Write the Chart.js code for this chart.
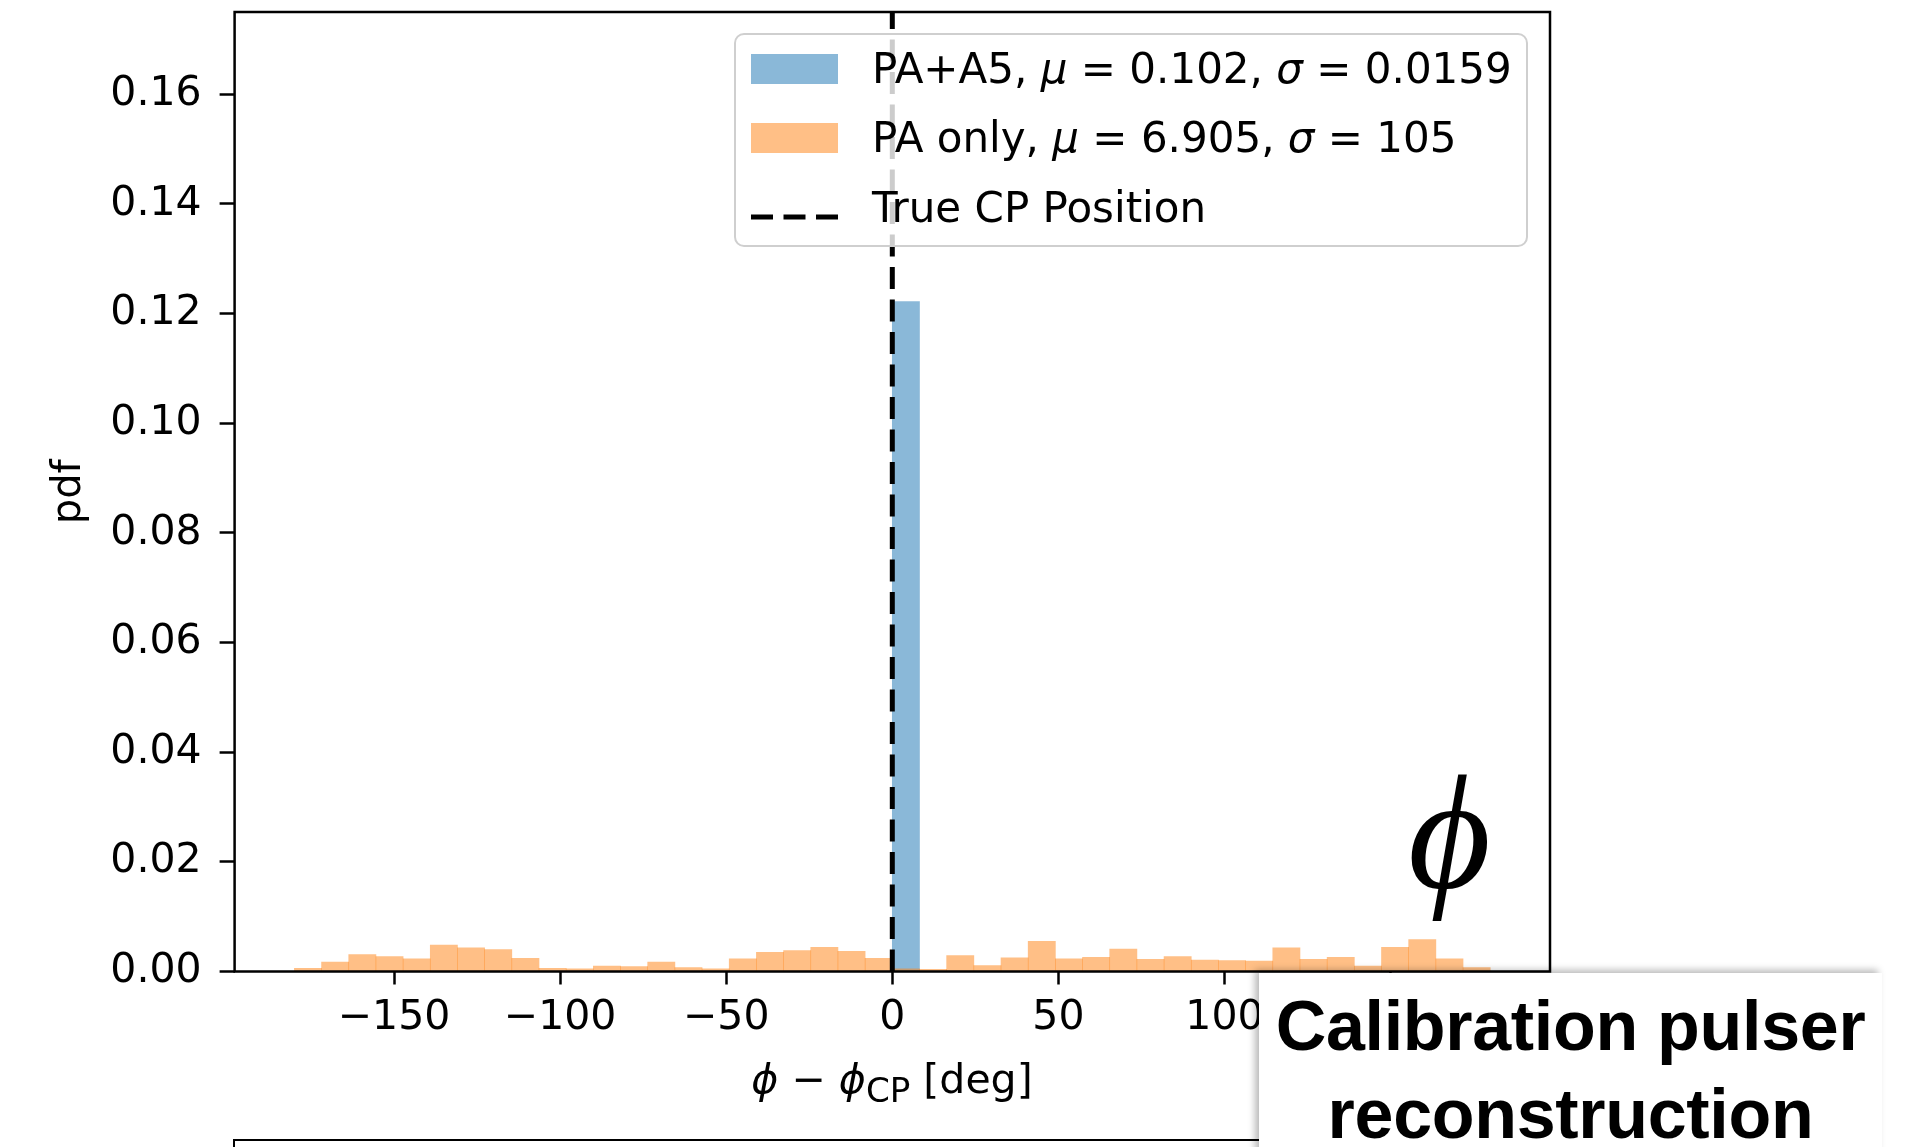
<!DOCTYPE html>
<html>
<head>
<meta charset="utf-8">
<title>Calibration pulser reconstruction</title>
<script src="https://cdn.jsdelivr.net/npm/chart.js@4.4.1/dist/chart.umd.min.js"></script>
<style>
    html, body { margin:0; padding:0; background:#fff; }
    body { width:1916px; height:1147px; position:relative; overflow:hidden; font-family:"DejaVu Sans", sans-serif; color:#000; }
    #chartCanvas { position:absolute; left:0; top:0; }
</style>
</head>
<body>
<canvas id="chartCanvas" width="1916" height="1147"></canvas>
<div id="legendBox"></div>
<div id="xLabel"><i>ϕ</i> − <i>ϕ</i><sub>CP</sub> [deg]</div>
<div id="bigPhi">ϕ</div>
<div id="lowerPanel"></div>
<div id="overlayBox">Calibration pulser<br>reconstruction</div>
<script>
document.addEventListener('DOMContentLoaded', drawPage);

// 44 equal bins over [-180, 180] deg
const binRange = [-180, 180];
const binCount = 44;

// PA+A5 : everything lands in the bin right above 0
const paA5Values = [
    0, 0, 0, 0, 0, 0, 0, 0, 0, 0, 0,
    0, 0, 0, 0, 0, 0, 0, 0, 0, 0, 0,
    0.1222, 0, 0, 0, 0, 0, 0, 0, 0, 0, 0,
    0, 0, 0, 0, 0, 0, 0, 0, 0, 0, 0
];
// PA only
const paOnlyValues = [
    0.0006, 0.0017, 0.0031, 0.0027, 0.0023, 0.0048, 0.0043, 0.0040, 0.0024, 0.0006, 0.0005,
    0.0010, 0.0009, 0.0017, 0.0007, 0.0005, 0.0023, 0.0035, 0.0038, 0.0044, 0.0037, 0.0024,
    0.0005, 0.0004, 0.0029, 0.0011, 0.0025, 0.0055, 0.0023, 0.0026, 0.0041, 0.0022, 0.0027,
    0.0021, 0.0020, 0.0019, 0.0043, 0.0022, 0.0026, 0.0010, 0.0044, 0.0058, 0.0023, 0.0007
];
const trueCpPosition = 0;

const xLimits = [-198, 198];
const yLimits = [0, 0.175];
const xTickStep = 50;
const yTickStep = 0.02;

const legendLabels = [
    'PA+A5, <i>μ</i> = 0.102, <i>σ</i> = 0.0159',
    'PA only, <i>μ</i> = 6.905, <i>σ</i> = 105',
    'True CP Position'
];

const blueFill = 'rgba(31,119,180,0.52)';
const orangeFill = 'rgba(255,127,14,0.5)';

function drawPage(){
    styleOverlays();
    createLegend();
    createChart();
}

function binCenters(){
    let width = (binRange[1] - binRange[0]) / binCount;
    let centers = [];
    for(let i = 0; i < binCount; i++){
        centers.push(binRange[0] + (i + 0.5) * width);
    }
    return centers;
}

function toPoints(values){
    let centers = binCenters();
    return values.map((v, i) => ({x: centers[i], y: v}));
}

function styleOverlays(){
    document.getElementById('legendBox').setAttribute("style",
        "position:absolute; left:734px; top:33px; width:794px; height:214px; box-sizing:border-box;" +
        " border:2.5px solid #cfcfcf; border-radius:10px; background:rgba(255,255,255,0.8); z-index:2;");
    document.getElementById('xLabel').setAttribute("style",
        "position:absolute; left:592px; width:600px; top:1054px; line-height:50px; font-size:41px;" +
        " text-align:center; white-space:nowrap;");
    document.getElementById('bigPhi').setAttribute("style",
        "position:absolute; left:1408px; top:753px; font-family:'Liberation Serif','DejaVu Serif',serif;" +
        " font-style:italic; font-size:160px; line-height:1; z-index:1;");
    document.getElementById('lowerPanel').setAttribute("style",
        "position:absolute; left:233px; top:1139px; width:1100px; height:40px;" +
        " border-top:2.5px solid #000; border-left:2.5px solid #000;");
    document.getElementById('overlayBox').setAttribute("style",
        "position:absolute; left:1259px; top:973px; width:623px; height:200px; box-sizing:border-box;" +
        " padding-top:9px; background:#fff; box-shadow:-4px -3px 7px rgba(0,0,0,0.28); z-index:3;" +
        " font-family:'Liberation Sans',Arial,sans-serif; font-weight:bold; font-size:70px; line-height:88px;" +
        " text-align:center; letter-spacing:-0.3px;");
}

function createLegend(){
    let box = document.getElementById('legendBox');
    let rowCenters = [34, 103, 173];
    for(let i = 0; i < legendLabels.length; i++){
        let handle = document.createElement('div');
        if(i < 2){
            handle.setAttribute("style", "position:absolute; left:15px; width:87px; height:30px; top:" +
                (rowCenters[i] - 15) + "px; background:" + (i === 0 ? blueFill : orangeFill) + ";");
        } else {
            handle.setAttribute("style", "position:absolute; left:15px; width:87px; height:6px; top:" +
                (rowCenters[i] - 3) + "px;");
            handle.innerHTML = '<svg width="87" height="6"><line x1="0" y1="3" x2="87" y2="3" stroke="#000"' +
                ' stroke-width="5" stroke-dasharray="22,10.5"/></svg>';
        }
        box.appendChild(handle);

        let text = document.createElement('div');
        text.setAttribute("style", "position:absolute; left:136px; line-height:50px; font-size:42px; white-space:nowrap; top:" +
            (rowCenters[i] - 25) + "px;");
        text.innerHTML = legendLabels[i];
        box.appendChild(text);
    }
}

const framePlugin = {
    id: 'frame',
    afterDatasetsDraw(chart){
        let ctx = chart.ctx;
        let area = chart.chartArea;
        ctx.save();
        ctx.strokeStyle = '#000';
        ctx.lineWidth = 2.5;
        ctx.strokeRect(area.left, area.top, area.right - area.left, area.bottom - area.top);
        ctx.restore();
    }
};

function minusSign(v){
    return v < 0 ? '\u2212' + Math.abs(v) : String(v);
}

function noEdgePadding(scale){
    scale.paddingTop = 0;
    scale.paddingBottom = 0;
    scale.paddingLeft = 0;
    scale.paddingRight = 0;
}

function createChart(){
    let ctx = document.getElementById('chartCanvas');
    let tickFont = {family: 'DejaVu Sans', size: 41};

    let data = {
        datasets: [
            {
                type: 'bar',
                label: 'PA+A5',
                data: toPoints(paA5Values),
                backgroundColor: blueFill,
                borderWidth: 0,
                grouped: false,
                barPercentage: 1,
                categoryPercentage: 1,
                order: 2
            },
            {
                type: 'bar',
                label: 'PA only',
                data: toPoints(paOnlyValues),
                backgroundColor: orangeFill,
                borderWidth: 0,
                grouped: false,
                barPercentage: 1,
                categoryPercentage: 1,
                order: 1
            },
            {
                type: 'line',
                label: 'True CP Position',
                data: [{x: trueCpPosition, y: yLimits[0]}, {x: trueCpPosition, y: yLimits[1]}],
                borderColor: '#000',
                borderWidth: 5,
                borderDash: [22, 10.5],
                pointRadius: 0,
                fill: false,
                order: 0
            }
        ]
    };

    let config = {
        type: 'bar',
        data: data,
        options: {
            responsive: false,
            animation: false,
            devicePixelRatio: 1,
            layout: {padding: {top: 12, right: 366, bottom: 0, left: 0}},
            plugins: {
                legend: {display: false},
                tooltip: {enabled: false}
            },
            scales: {
                x: {
                    type: 'linear',
                    min: xLimits[0],
                    max: xLimits[1],
                    offset: false,
                    grid: {display: true, drawOnChartArea: false, offset: false, tickLength: 13, tickWidth: 2.5, tickColor: '#000'},
                    border: {display: false},
                    ticks: {
                        stepSize: xTickStep,
                        includeBounds: false,
                        autoSkip: false,
                        maxRotation: 0,
                        padding: 9,
                        color: '#000',
                        font: tickFont,
                        callback: v => minusSign(v)
                    },
                    afterFit: scale => { scale.height = 175.5; noEdgePadding(scale); }
                },
                y: {
                    type: 'linear',
                    min: yLimits[0],
                    max: yLimits[1],
                    grid: {display: true, drawOnChartArea: false, tickLength: 15, tickWidth: 2.5, tickColor: '#000'},
                    border: {display: false},
                    ticks: {
                        stepSize: yTickStep,
                        includeBounds: false,
                        autoSkip: false,
                        padding: 18,
                        color: '#000',
                        font: tickFont,
                        callback: v => v.toFixed(2)
                    },
                    title: {
                        display: true,
                        text: 'pdf',
                        color: '#000',
                        font: {family: 'DejaVu Sans', size: 40},
                        padding: {top: 46, bottom: 0}
                    },
                    afterFit: scale => { scale.width = 234.6; noEdgePadding(scale); }
                }
            }
        },
        plugins: [framePlugin]
    };

    new Chart(ctx, config);
}
</script>
</body>
</html>
